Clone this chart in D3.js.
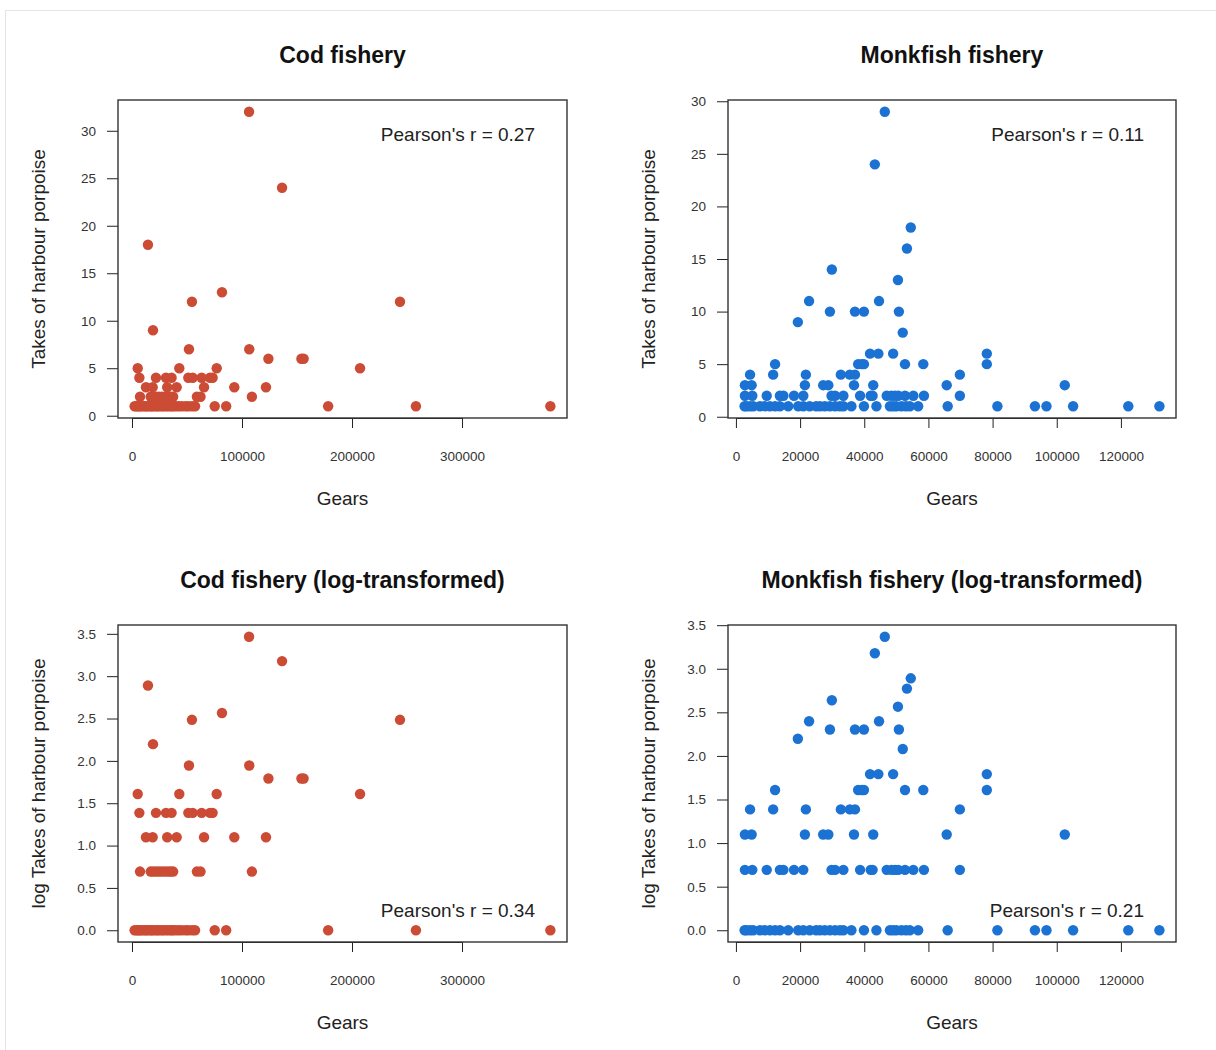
<!DOCTYPE html>
<html>
<head>
<meta charset="utf-8">
<script src="https://cdn.jsdelivr.net/npm/d3@7"></script>
<style>
  html, body { margin: 0; padding: 0; background: #fff; }
  svg { display: block; font-family: "Liberation Sans", Arial, Helvetica, sans-serif; }
</style>
</head>
<body>
<svg id="chart" width="1216" height="1050"></svg>
<script>
// Cod fishery: number of gears and takes of harbour porpoise per record
const codGears = [
  2400, 4100, 5800, 7300, 9000, 11200, 12800, 14600, 16900, 18300, 20500, 22800, 24100,
  26700, 28400, 30900, 33200, 35600, 37100, 39800, 42500, 45300, 48700, 51200, 54600,
  57300, 75200, 85600, 178300, 258100, 380300,
  7300, 17000, 19500, 22000, 24600, 27300, 30100, 32800, 35200, 37400, 59000, 62300, 109000,
  12700, 18800, 32000, 40600, 65500, 93000, 121800,
  6700, 21800, 30900, 36000, 51200, 55200, 63300, 70900, 73300,
  5200, 43000, 77000, 207300,
  124000, 154000, 156000,
  51800, 106600,
  19100, 54500, 243600, 81800, 14500, 136400, 106400
];
const codTakes = [
  1, 1, 1, 1, 1, 1, 1, 1, 1, 1, 1, 1, 1,
  1, 1, 1, 1, 1, 1, 1, 1, 1, 1, 1, 1,
  1, 1, 1, 1, 1, 1,
  2, 2, 2, 2, 2, 2, 2, 2, 2, 2, 2, 2, 2,
  3, 3, 3, 3, 3, 3, 3,
  4, 4, 4, 4, 4, 4, 4, 4, 4,
  5, 5, 5, 5,
  6, 6, 6,
  7, 7,
  9, 12, 12, 13, 18, 24, 32
];

// Monkfish fishery: number of gears and takes of harbour porpoise per record
const monkGears = [
  2700, 3300, 4400, 5400, 7500, 9000, 10600, 12200, 13700, 16300, 19400, 21000, 23000,
  25000, 26200, 27700, 29300, 30900, 32400, 33500, 36000, 39900, 43800, 48000, 49000,
  50000, 51600, 53000, 54200, 56800, 66000, 81500, 93200, 96800, 105100, 122300, 132000,
  2800, 5100, 9600, 13700, 14800, 18100, 21000, 29800, 30900, 33500, 38700, 42000, 42600,
  47000, 48500, 49600, 50600, 52700, 55300, 58600, 69800,
  2800, 4900, 21500, 27200, 28800, 36800, 42800, 65700, 102500,
  4400, 11600, 21800, 32700, 35500, 37100, 69800,
  12200, 38100, 39200, 39900, 52700, 58400, 78200,
  41800, 44400, 49000, 78200,
  52000, 19300,
  29300, 37100, 39900, 50800,
  22800, 44600, 50500, 29900, 53300, 54500, 43300, 46400
];
const monkTakes = [
  1, 1, 1, 1, 1, 1, 1, 1, 1, 1, 1, 1, 1,
  1, 1, 1, 1, 1, 1, 1, 1, 1, 1, 1, 1,
  1, 1, 1, 1, 1, 1, 1, 1, 1, 1, 1, 1,
  2, 2, 2, 2, 2, 2, 2, 2, 2, 2, 2, 2, 2,
  2, 2, 2, 2, 2, 2, 2, 2,
  3, 3, 3, 3, 3, 3, 3, 3, 3,
  4, 4, 4, 4, 4, 4, 4,
  5, 5, 5, 5, 5, 5, 5,
  6, 6, 6, 6,
  8, 9,
  10, 10, 10, 10,
  11, 11, 13, 14, 16, 18, 24, 29
];

// Correlation coefficients printed in each panel
const codPearson = [0.27, 0.34];
const monkPearson = [0.11, 0.21];

// Axis ticks
const codXTicks = [0, 100000, 200000, 300000];
const monkXTicks = [0, 20000, 40000, 60000, 80000, 100000, 120000];
const takesYTicks = [0, 5, 10, 15, 20, 25, 30];
const logYTicks = [0, 0.5, 1, 1.5, 2, 2.5, 3, 3.5];

const codColor = "#cb4b35";
const monkColor = "#1b72d3";

const svg = d3.select("#chart");

// light page frame
svg.append("rect")
  .attr("x", 5.5).attr("y", 10.5)
  .attr("width", 1230).attr("height", 1060)
  .attr("fill", "none").attr("stroke", "#e4e4e4").attr("stroke-width", 1);

// R-style range: data extent widened by 4% on each side
function padded(values) {
  const [lo, hi] = d3.extent(values);
  const d = (hi - lo) * 0.04;
  return [lo - d, hi + d];
}

const panels = [
  { title: "Cod fishery", gears: codGears, takes: codTakes, log: false, color: codColor,
    xTicks: codXTicks, yTicks: takesYTicks, r: codPearson[0], left: 118, top: 100, width: 449, height: 318 },
  { title: "Monkfish fishery", gears: monkGears, takes: monkTakes, log: false, color: monkColor,
    xTicks: monkXTicks, yTicks: takesYTicks, r: monkPearson[0], left: 728, top: 100, width: 448, height: 318 },
  { title: "Cod fishery (log-transformed)", gears: codGears, takes: codTakes, log: true, color: codColor,
    xTicks: codXTicks, yTicks: logYTicks, r: codPearson[1], left: 118, top: 625, width: 449, height: 317 },
  { title: "Monkfish fishery (log-transformed)", gears: monkGears, takes: monkTakes, log: true, color: monkColor,
    xTicks: monkXTicks, yTicks: logYTicks, r: monkPearson[1], left: 728, top: 625, width: 448, height: 317 }
];

panels.forEach(p => {
  const yVals = p.log ? p.takes.map(v => Math.log(v)) : p.takes;
  const pts = p.gears.map((g, i) => ({ x: g, y: yVals[i] }));

  const x = d3.scaleLinear().domain(padded(p.gears)).range([p.left, p.left + p.width]);
  const y = d3.scaleLinear().domain(padded(yVals)).range([p.top + p.height, p.top]);

  const g = svg.append("g");
  const bottom = p.top + p.height;

  // points
  g.append("g").selectAll("circle").data(pts).join("circle")
    .attr("cx", d => x(d.x))
    .attr("cy", d => y(d.y))
    .attr("r", 5.2)
    .attr("fill", p.color);

  // x axis
  const xAxis = d3.axisBottom(x).tickValues(p.xTicks).tickSize(10).tickPadding(23)
    .tickFormat(d3.format("d"));
  const xa = g.append("g").attr("transform", `translate(0,${bottom})`).call(xAxis);
  xa.select(".domain").attr("d", `M${x(p.xTicks[0])},0.5H${x(p.xTicks[p.xTicks.length - 1])}`)
    .attr("stroke", "#222");
  xa.selectAll(".tick line").attr("stroke", "#222");
  xa.selectAll(".tick text").attr("font-size", 13.5).attr("fill", "#333")
    .attr("font-family", "Liberation Sans, Arial, sans-serif");

  // y axis
  const yAxis = d3.axisLeft(y).tickValues(p.yTicks).tickSize(11).tickPadding(11)
    .tickFormat(p.log ? d3.format(".1f") : d3.format("d"));
  const ya = g.append("g").attr("transform", `translate(${p.left},0)`).call(yAxis);
  ya.select(".domain").remove();
  ya.selectAll(".tick line").attr("stroke", "#222");
  ya.selectAll(".tick text").attr("font-size", 13.5).attr("fill", "#333")
    .attr("font-family", "Liberation Sans, Arial, sans-serif");

  // plot box
  g.append("rect")
    .attr("x", p.left).attr("y", p.top)
    .attr("width", p.width).attr("height", p.height)
    .attr("fill", "none").attr("stroke", "#333").attr("stroke-width", 1.4);

  const cx = p.left + p.width / 2;

  // title
  g.append("text")
    .attr("x", cx).attr("y", p.top - 37)
    .attr("text-anchor", "middle")
    .attr("font-size", 23).attr("font-weight", "bold").attr("fill", "#111")
    .text(p.title);

  // x label
  g.append("text")
    .attr("x", cx).attr("y", bottom + 87)
    .attr("text-anchor", "middle")
    .attr("font-size", 19).attr("fill", "#222")
    .text("Gears");

  // y label
  g.append("text")
    .attr("transform", `translate(${p.left - 73},${p.top + p.height / 2}) rotate(-90)`)
    .attr("text-anchor", "middle")
    .attr("font-size", 19).attr("fill", "#222")
    .text(p.log ? "log Takes of harbour porpoise" : "Takes of harbour porpoise");

  // correlation note
  g.append("text")
    .attr("x", p.left + p.width - 32)
    .attr("y", p.log ? bottom - 25 : p.top + 41)
    .attr("text-anchor", "end")
    .attr("font-size", 19).attr("fill", "#222")
    .text(`Pearson's r = ${p.r.toFixed(2)}`);
});
</script>
</body>
</html>
